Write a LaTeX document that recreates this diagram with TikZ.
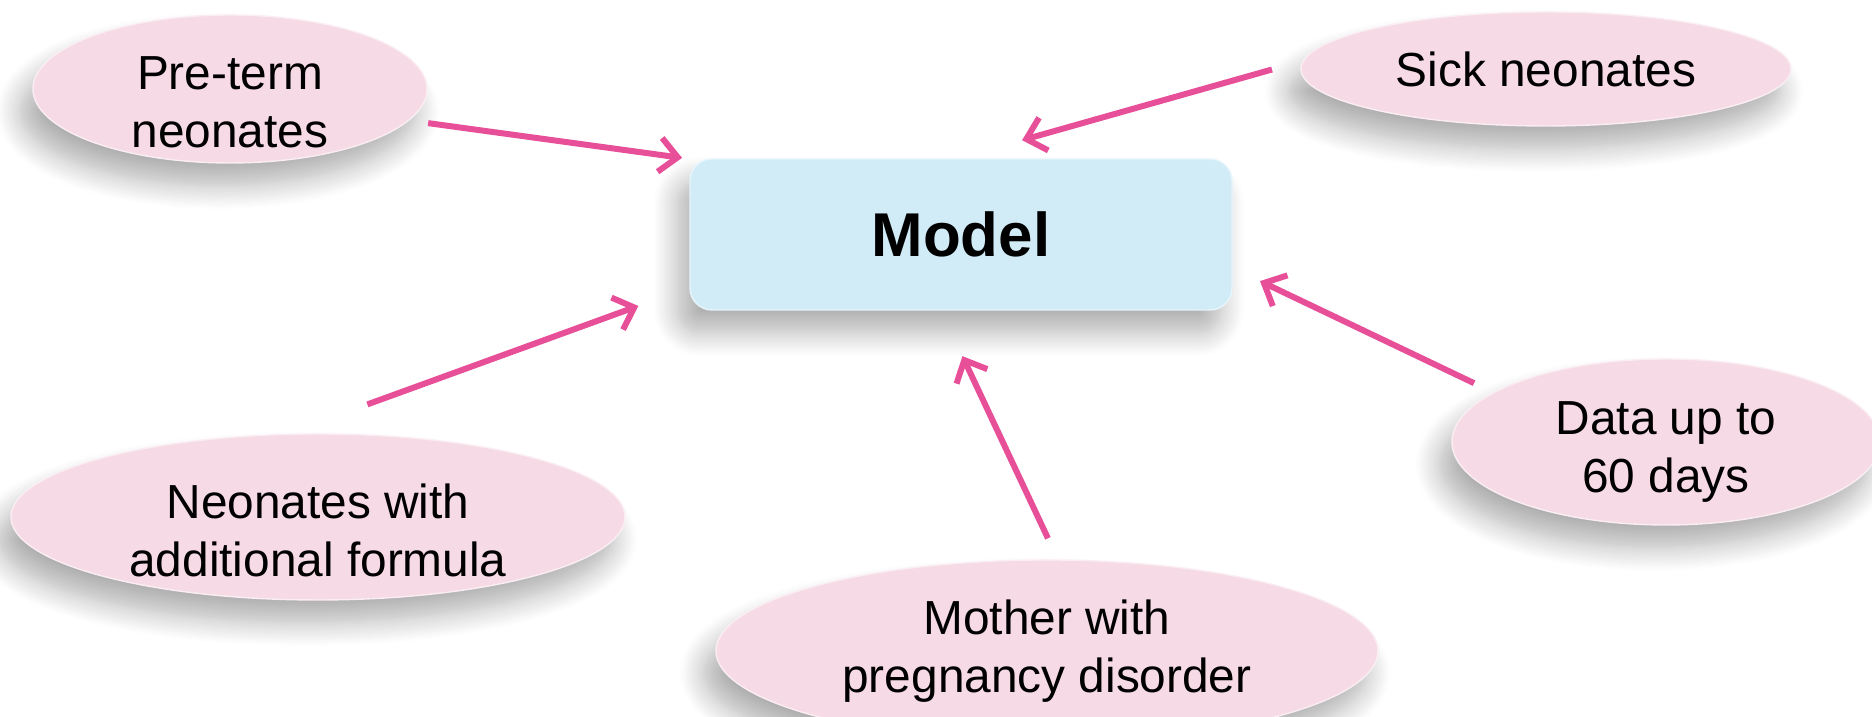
\documentclass[tikz,border=0pt]{standalone}
\usepackage{fontspec}
\setmainfont{Liberation Sans}
\usetikzlibrary{shapes}
\usetikzlibrary{positioning}
\usetikzlibrary{arrows.meta}
\usetikzlibrary{shadows.blur}
\definecolor{ovalpink}{RGB}{246,218,229}
\definecolor{boxblue}{RGB}{209,236,247}
\definecolor{arrowpink}{RGB}{231,80,152}
\tikzset{
    softshadow/.style = {blur shadow={shadow xshift=-0.12cm, shadow yshift=-0.22cm, shadow blur radius=0.24cm, shadow blur steps=12, shadow opacity=32}},
    oval/.style = {ellipse, fill=ovalpink, draw=white!55!ovalpink, thin, inner sep=0pt, outer sep=0pt, softshadow},
    ovaltext/.style = {align=center, inner sep=0pt, font=\fontsize{13.6}{16.5}\selectfont},
    modelbox/.style = {rectangle, rounded corners=0.22cm, fill=boxblue, draw=white!45!boxblue, thin, outer sep=0pt, minimum width=5.42cm, minimum height=1.51cm, font=\bfseries\fontsize{17.6}{20}\selectfont, softshadow},
    edgep/.style = {-{Straight Barb[length=1.8mm,width=3.4mm]}, line width=0.06cm, arrowpink}
}
\begin{document}
\begin{tikzpicture}
\useasboundingbox (0,0) rectangle (18.72,7.17);
%
\node[modelbox] at (9.61, 4.825) (model) {Model};
\node[oval, minimum width=3.94cm, minimum height=1.48cm, label={[ovaltext, yshift=-0.13cm]center:Pre-term\\neonates}] at (2.30, 6.28) (pre) {};
\node[oval, minimum width=4.90cm, minimum height=1.14cm, label={[ovaltext]center:Sick neonates}] at (15.46, 6.48) (sick) {};
\node[oval, minimum width=6.14cm, minimum height=1.66cm, label={[ovaltext, yshift=-0.13cm]center:Neonates with\\additional formula}] at (3.18, 2.00) (neo) {};
\node[oval, minimum width=6.62cm, minimum height=1.82cm, label={[ovaltext]center:Mother with\\pregnancy disorder}] at (10.47, 0.66) (mother) {};
\node[oval, minimum width=4.28cm, minimum height=1.66cm, label={[ovaltext, yshift=-0.10cm]center:Data up to\\60 days}] at (16.66, 2.75) (data) {};
%
\draw[edgep, shorten <=0.2cm, shorten >=0.08cm] (pre.-10) -- (model.north west);
\draw[edgep, shorten <=0.33cm, shorten >=0.69cm] (sick.178) -- (model.94.5);
\draw[edgep, shorten <=0.88cm, shorten >=0.55cm] (neo.112) -- (model.191);
\draw[edgep, shorten <=0.24cm, shorten >=0.51cm] (mother.83) -- (model.255);
\draw[edgep, shorten <=0.22cm, shorten >=0.31cm] (data.164) -- (model.-7);

\end{tikzpicture}
\end{document}
